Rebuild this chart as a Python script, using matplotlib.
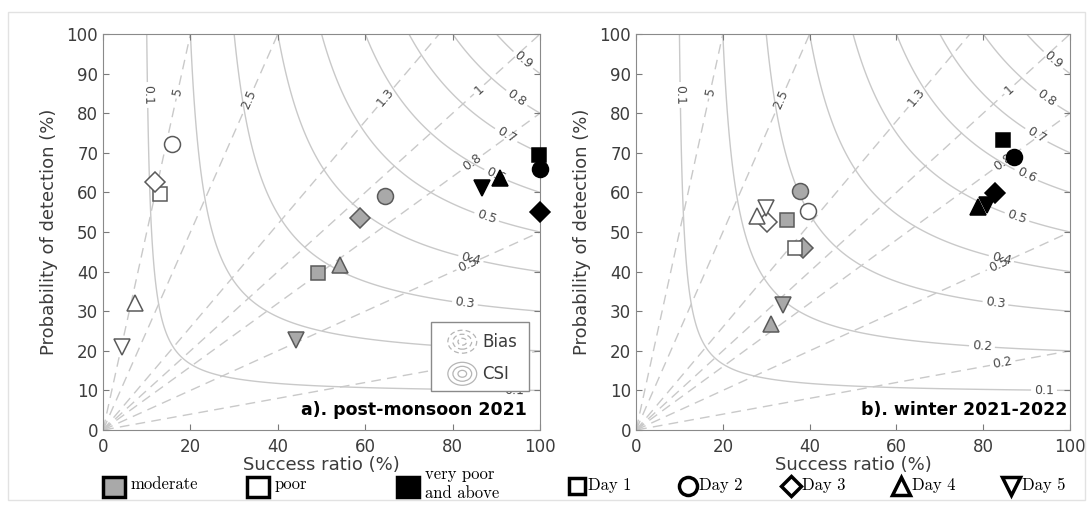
import numpy as np
import matplotlib
matplotlib.use("Agg")
import matplotlib.pyplot as plt
from matplotlib.patches import Rectangle, Ellipse
from matplotlib.lines import Line2D

# ---- data (success ratio %, probability of detection %), order: Day 1..Day 5
days = ["Day 1", "Day 2", "Day 3", "Day 4", "Day 5"]
categories = ["moderate", "poor", "very poor\nand above"]

pm_moderate_sr = [49.2, 64.5, 58.8, 54.2, 44.2]
pm_moderate_pod = [39.6, 59.0, 53.5, 41.7, 22.7]
pm_poor_sr = [13.0, 15.8, 12.0, 7.3, 4.3]
pm_poor_pod = [59.6, 72.2, 62.6, 32.0, 21.0]
pm_vpoor_sr = [99.8, 100.0, 100.0, 90.8, 86.7]
pm_vpoor_pod = [69.4, 66.0, 55.0, 63.6, 61.0]

w_moderate_sr = [34.8, 37.7, 38.4, 31.2, 33.9]
w_moderate_pod = [53.0, 60.4, 46.0, 26.9, 31.6]
w_poor_sr = [36.6, 39.7, 30.2, 27.8, 29.9]
w_poor_pod = [46.0, 55.3, 52.6, 54.1, 56.0]
w_vpoor_sr = [84.5, 87.2, 82.6, 78.7, 80.8]
w_vpoor_pod = [73.2, 69.0, 59.8, 56.3, 56.8]

csi_levels = [0.1, 0.2, 0.3, 0.4, 0.5, 0.6, 0.7, 0.8, 0.9]
bias_levels = [0.2, 0.5, 0.8, 1, 1.3, 2.5, 5]

# ---- styles
day_markers = ["s", "o", "D", "^", "v"]
day_sizes = [10, 11.5, 10.5, 12, 12]
cat_face = ["#a9a9a9", "white", "black"]
cat_edge = ["#5a5a5a", "#5a5a5a", "black"]
line_col = "#c9c9c9"
txt_col = "#3c3c3c"

# label placement of the contour labels
csi_lbl_pos = [(9.6, 84.6), (95.8, 93), (94.3, 83.3), (92, 74), (90, 64.6),
               (87.8, 53.9), (84, 42.5), (82.8, 32), (79.7, 21), (94, 9.6)]
bias_lbl_pos = [(17.2, 85.4), (33.6, 83.3), (64.5, 84.2), (85.8, 86.3),
                (84.4, 67.8), (83.6, 41.7), (84.6, 16.2)]

sr = np.linspace(0.05, 100, 500)
pod = np.linspace(0.05, 100, 500)
SR, POD = np.meshgrid(sr, pod)
CSI = 1.0 / (100.0 / SR + 100.0 / POD - 1.0)
BIAS = POD / SR


def draw_background(ax):
    cs = ax.contour(SR, POD, CSI, levels=csi_levels, colors=line_col,
                    linewidths=1.0, linestyles="solid", zorder=1)
    cb = ax.contour(SR, POD, BIAS, levels=bias_levels, colors=line_col,
                    linewidths=1.0, linestyles=[(0, (7, 4.5))], zorder=1)
    ax.clabel(cs, manual=csi_lbl_pos, inline=True, inline_spacing=3,
              fontsize=9, fmt=lambda v: f"{v:g}", colors="#4a4a4a")
    ax.clabel(cb, manual=bias_lbl_pos, inline=True, inline_spacing=3,
              fontsize=9, fmt=lambda v: f"{v:g}", colors="#4a4a4a")


def draw_points(ax, groups):
    for ci, (xs, ys) in enumerate(groups):
        for di in range(len(days)):
            ax.plot(xs[di], ys[di], linestyle="none", marker=day_markers[di],
                    markersize=day_sizes[di], markerfacecolor=cat_face[ci],
                    markeredgecolor=cat_edge[ci], markeredgewidth=1.1,
                    clip_on=False, zorder=5)


def style_axes(ax):
    ax.set_xlim(0, 100)
    ax.set_ylim(0, 100)
    ax.set_xticks(range(0, 101, 20))
    ax.set_yticks(range(0, 101, 10))
    ax.tick_params(direction="in", top=True, right=True, labelsize=12,
                   colors="#7a7a7a", labelcolor=txt_col, length=4)
    ax.tick_params(axis="x", pad=6)
    for s in ax.spines.values():
        s.set_color("#8a8a8a")
    ax.set_xlabel("Success ratio (%)", fontsize=13, color=txt_col, labelpad=0)
    ax.set_ylabel("Probability of detection (%)", fontsize=13, color=txt_col,
                  labelpad=6)


fig = plt.figure(figsize=(10.88, 5.08), dpi=100)
fig.patch.set_facecolor("white")
fig.add_artist(Rectangle((0.007, 0.015), 0.99, 0.962, transform=fig.transFigure,
                         fill=False, edgecolor="#e2e2e2", linewidth=1))

ax1 = fig.add_axes([0.0947, 0.1535, 0.4017, 0.7795])
ax2 = fig.add_axes([0.5846, 0.1535, 0.3989, 0.7795])

for ax in (ax1, ax2):
    draw_background(ax)
    style_axes(ax)

draw_points(ax1, [(pm_moderate_sr, pm_moderate_pod), (pm_poor_sr, pm_poor_pod),
                  (pm_vpoor_sr, pm_vpoor_pod)])
draw_points(ax2, [(w_moderate_sr, w_moderate_pod), (w_poor_sr, w_poor_pod),
                  (w_vpoor_sr, w_vpoor_pod)])

ax1.text(0.97, 0.028, "a). post-monsoon 2021", transform=ax1.transAxes,
         ha="right", va="bottom", fontsize=12.5, fontweight="bold", zorder=8)
ax2.text(0.993, 0.028, "b). winter 2021-2022", transform=ax2.transAxes,
         ha="right", va="bottom", fontsize=12.5, fontweight="bold", zorder=8)

# Bias / CSI key box in panel a
ax1.add_patch(Rectangle((0.75, 0.099), 0.224, 0.174, transform=ax1.transAxes,
                        facecolor="white", edgecolor="#8a8a8a", linewidth=1,
                        zorder=6))
for cy, ls in ((0.223, (0, (4, 2.5))), (0.142, "-")):
    for k in (1.0, 0.65, 0.3):
        ax1.add_patch(Ellipse((0.822, cy), 0.066 * k, 0.058 * k,
                              transform=ax1.transAxes, fill=False,
                              edgecolor="#b5b5b5", linestyle=ls,
                              linewidth=0.9, zorder=7))
ax1.text(0.868, 0.223, "Bias", transform=ax1.transAxes, va="center",
         fontsize=12, color=txt_col, zorder=7)
ax1.text(0.868, 0.142, "CSI", transform=ax1.transAxes, va="center",
         fontsize=12, color=txt_col, zorder=7)

# bottom key: categories and days
W, H = 1088.0, 508.0
cat_x = [114, 258, 408]
for ci, name in enumerate(categories):
    fig.add_artist(Rectangle(((cat_x[ci] - 11) / W, 1 - 497 / H), 22 / W, 20 / H,
                             transform=fig.transFigure, facecolor=cat_face[ci],
                             edgecolor="black", linewidth=2.5))
    fig.text((cat_x[ci] + 17) / W, 1 - 484 / H, name, family="cmr10",
             fontsize=12, va="center", ha="left", linespacing=1.25)

day_x = [577, 688, 791, 901, 1011]
key_sizes = [12, 13, 10, 13, 13]
for di, name in enumerate(days):
    fig.add_artist(Line2D([day_x[di] / W], [1 - 486 / H], transform=fig.transFigure,
                          linestyle="none", marker=day_markers[di],
                          markersize=key_sizes[di], markerfacecolor="white",
                          markeredgecolor="black", markeredgewidth=2.5))
    fig.text((day_x[di] + 11) / W, 1 - 485 / H, name, family="cmr10",
             fontsize=12, va="center", ha="left")

fig.savefig("out.png", dpi=100, facecolor="white")
